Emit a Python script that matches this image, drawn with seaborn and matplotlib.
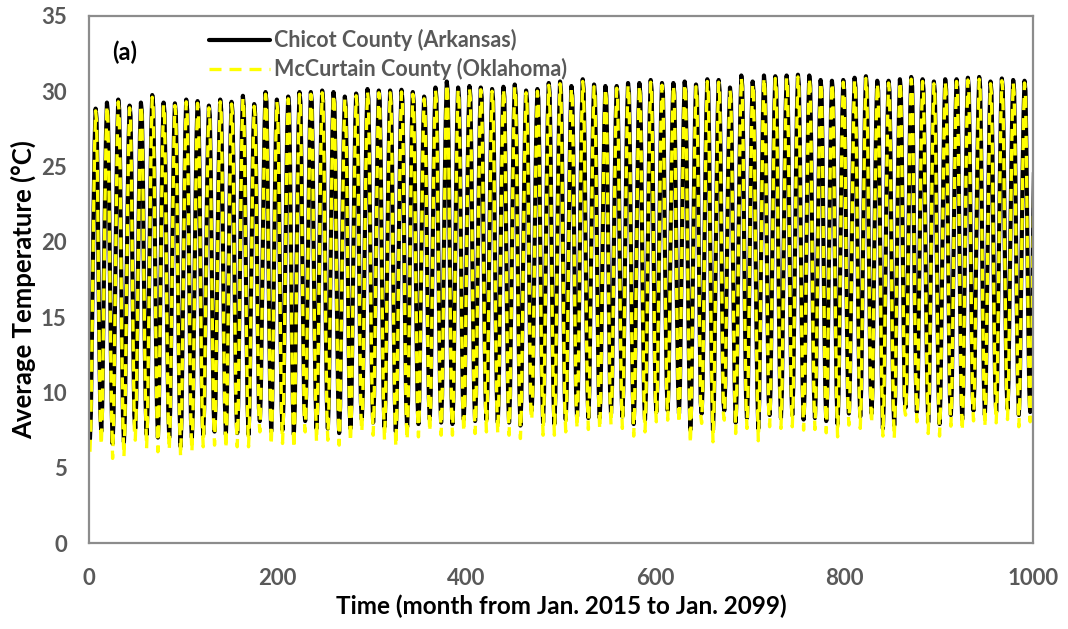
import numpy as np
import pandas as pd
import matplotlib
matplotlib.use("Agg")
import matplotlib.pyplot as plt
import seaborn as sns

# ---- data (one value per year, Jan 2015 ...) ----
chicot_peaks = [28.85, 29.25, 29.45, 29.05, 29.25, 29.75, 29.25, 29.2, 29.45, 29.35,
                29.05, 29.45, 29.3, 29.7, 29.15, 29.95, 29.45, 29.65, 29.95, 29.95,
                30.05, 29.95, 29.65, 29.85, 30.15, 30.05, 30.05, 30.1,
                29.95, 29.65, 30.25, 30.65, 30.25, 30.35, 30.25, 30.15, 30.3, 30.45,
                30.05, 30.15, 30.55, 30.65, 30.35, 30.8, 30.45, 30.35, 30.35, 30.55,
                30.55, 30.75, 30.55, 30.55, 30.65, 30.45, 30.8, 30.75,
                30.25, 31.05, 30.65, 31.05, 31.0, 31.05, 31.1, 31.05, 30.75, 30.7,
                30.75, 30.9, 31.0, 30.7, 30.7, 30.8, 30.95, 30.8, 30.65, 30.8,
                30.8, 30.9, 30.95, 30.65, 30.85, 30.75, 30.7, 30.8]
mccurtain_peaks = [28.7, 29.05, 29.3, 28.9, 29.1, 29.6, 29.1, 29.05, 29.3, 29.2,
                   28.9, 29.3, 29.15, 29.55, 29.0, 29.8, 29.3, 29.5, 29.8, 29.8,
                   29.9, 29.8, 29.5, 29.7, 30.0, 29.9, 29.9, 29.95,
                   29.8, 29.5, 30.1, 30.5, 30.1, 30.2, 30.1, 30.0, 30.15, 30.3,
                   29.9, 30.0, 30.4, 30.5, 30.2, 30.65, 30.3, 30.2, 30.2, 30.4,
                   30.4, 30.6, 30.4, 30.4, 30.5, 30.3, 30.65, 30.6,
                   30.1, 30.9, 30.5, 30.9, 30.85, 30.9, 30.95, 30.9, 30.6, 30.55,
                   30.6, 30.75, 30.85, 30.55, 30.55, 30.65, 30.8, 30.65, 30.5, 30.65,
                   30.65, 30.75, 30.8, 30.5, 30.7, 30.6, 30.55, 30.65]
mccurtain_troughs = [6.06, 6.5, 5.62, 5.73, 6.83, 6.28, 6.06, 6.17, 5.73, 6.06,
                     6.39, 6.5, 6.28, 6.39, 6.39, 7.38, 6.5, 6.61, 6.28, 7.38, 6.72,
                     6.83, 6.5, 6.72, 7.38, 7.16, 6.83, 6.39, 6.83, 7.05, 7.38,
                     7.16, 7.16, 7.38, 7.27, 7.38, 7.27, 7.16, 6.94, 8.16, 7.16, 7.16,
                     7.38, 7.61, 7.54, 7.54, 7.83, 7.61, 7.1, 7.38, 8.05, 8.16,
                     7.94, 6.61, 7.94, 6.72, 8.16, 7.27, 7.61, 6.79, 7.72, 7.61, 7.72,
                     7.5, 7.54, 7.32, 7.05, 7.83, 7.61, 7.94, 7.1, 6.94, 8.49,
                     8.05, 7.27, 7.1, 7.76, 7.45, 8.11, 7.72, 7.98, 8.2, 7.72, 8.05]
chicot_troughs = [6.9, 7.4, 6.6, 6.7, 7.6, 7.2, 7.0, 7.0, 6.4, 7.0,
                  7.2, 7.4, 7.2, 7.3, 7.2, 8.1, 7.4, 7.5, 7.2, 8.1, 7.6,
                  7.6, 7.3, 7.6, 8.2, 8.0, 7.7, 7.4, 7.7, 7.9, 8.2,
                  8.0, 7.9, 8.2, 8.1, 8.2, 8.0, 8.0, 7.8, 8.8, 8.0, 7.9,
                  8.2, 8.4, 8.3, 8.3, 8.6, 8.4, 7.9, 8.2, 8.7, 8.8,
                  8.6, 7.5, 8.6, 7.5, 8.8, 8.0, 8.3, 7.6, 8.5, 8.3, 8.5,
                  8.2, 8.3, 8.1, 7.9, 8.6, 8.4, 8.6, 7.6, 7.8, 9.0,
                  8.7, 8.0, 7.9, 8.5, 8.2, 8.8, 8.5, 8.7, 8.9, 8.5, 8.7]
# typical seasonal position of each month between the January low and the July high
month_shape = [0.0, 0.08, 0.30, 0.50, 0.72, 0.90, 1.0, 0.97, 0.80, 0.52, 0.28, 0.08]

series_names = ["Chicot County (Arkansas)", "McCurtain County (Oklahoma)"]

def monthly(troughs, peaks):
    vals = []
    for lo, hi in zip(troughs, peaks):
        for s in month_shape:
            vals.append(lo + (hi - lo) * s)
    return vals

chicot = monthly(chicot_troughs, chicot_peaks)
mccurtain = monthly(mccurtain_troughs, mccurtain_peaks)
months = np.arange(1, len(chicot) + 1)

df = pd.DataFrame({"month": np.concatenate([months, months]),
                   "temp": np.concatenate([chicot, mccurtain]),
                   "county": [series_names[0]] * len(months) + [series_names[1]] * len(months)})

# ---- plot ----
sns.set_theme(style="white")
plt.rcParams["font.family"] = ["Lato", "DejaVu Sans"]

fig = plt.figure(figsize=(10.68, 6.29), dpi=100)
ax = fig.add_axes([89 / 1068, 1 - 543 / 629, (1033 - 89) / 1068, (543 - 16) / 629])

sns.lineplot(data=df[df.county == series_names[0]], x="month", y="temp", ax=ax,
             color="black", lw=3.0, label=series_names[0], estimator=None)
sns.lineplot(data=df[df.county == series_names[1]], x="month", y="temp", ax=ax,
             color="#FFFF00", lw=2.4, dashes=False, label=series_names[1], estimator=None)
ax.lines[1].set_dashes([3.6, 2.4])

ax.set_xlim(0, 1000)
ax.set_ylim(0, 35)
ax.set_xticks(range(0, 1001, 200))
ax.set_yticks(range(0, 36, 5))
ax.tick_params(axis="both", length=0, labelsize=16, labelcolor="#595959")
ax.tick_params(axis="y", pad=16)
ax.tick_params(axis="x", pad=18)
for lab in ax.get_xticklabels() + ax.get_yticklabels():
    lab.set_fontweight("bold")
for sp in ax.spines.values():
    sp.set_color("#8c8c8c")
    sp.set_linewidth(1.6)

ax.set_xlabel("Time (month from Jan. 2015 to Jan. 2099)", fontsize=17.5, fontweight="bold",
              color="black", labelpad=4)
ax.set_ylabel("Average Temperature (°C)", fontsize=18.5, fontweight="bold",
              color="black")
ax.yaxis.set_label_coords(-0.056, 0.48)

ax.text(0.025, 0.932, "(a)", transform=ax.transAxes, fontsize=17, fontweight="bold",
        color="black", va="center")

leg = ax.legend(loc="upper left", bbox_to_anchor=(0.107, 1.012), frameon=False,
                handlelength=2.8, handletextpad=0.2, labelspacing=0.32,
                prop={"size": 15.5, "weight": "bold"})
for t in leg.get_texts():
    t.set_color("#595959")

fig.savefig("out.png", dpi=100)
